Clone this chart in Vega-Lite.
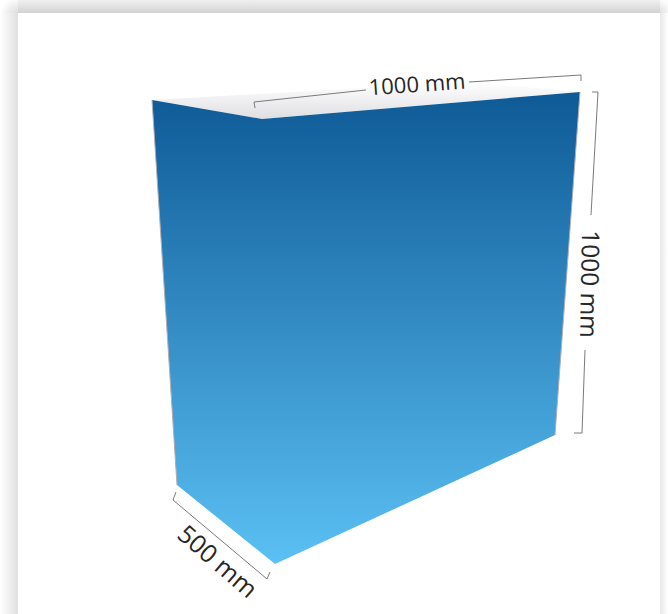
{"$schema":"https://vega.github.io/schema/vega-lite/v6.json","width":668,"height":614,"padding":0,"autosize":{"type":"fit","contains":"padding"},"background":"white","view":{"stroke":null},"datasets":{"top":[{"x":152,"y":100,"o":1},{"x":468,"y":82,"o":2},{"x":580,"y":92,"o":3},{"x":262,"y":119,"o":4},{"x":152,"y":100,"o":5}],"box":[{"x":152,"y":100,"o":1},{"x":262,"y":119,"o":2},{"x":580,"y":92,"o":3},{"x":555,"y":435,"o":4},{"x":275,"y":564,"o":5},{"x":177,"y":485,"o":6},{"x":152,"y":100,"o":7}],"edge":[{"x":152,"y":100,"o":1,"s":"a"},{"x":177,"y":485,"o":2,"s":"a"},{"x":580,"y":92,"o":1,"s":"b"},{"x":555,"y":435,"o":2,"s":"b"}],"dims":[{"x":255,"y":108,"o":1,"s":"t1"},{"x":254,"y":102,"o":2,"s":"t1"},{"x":366,"y":90,"o":3,"s":"t1"},{"x":469,"y":82,"o":1,"s":"t2"},{"x":581,"y":75,"o":2,"s":"t2"},{"x":581,"y":81,"o":3,"s":"t2"},{"x":592,"y":92,"o":1,"s":"r1"},{"x":598,"y":92,"o":2,"s":"r1"},{"x":591,"y":215,"o":3,"s":"r1"},{"x":585,"y":350,"o":1,"s":"r2"},{"x":582,"y":433,"o":2,"s":"r2"},{"x":574,"y":433,"o":3,"s":"r2"},{"x":176,"y":492,"o":1,"s":"b"},{"x":173,"y":500,"o":2,"s":"b"},{"x":267,"y":579,"o":3,"s":"b"},{"x":270,"y":572,"o":4,"s":"b"}]},"layer":[{"data":{"values":[{"x":0,"x2":18,"y":13,"y2":614}]},"mark":{"type":"rect","fill":{"gradient":"linear","x1":0,"y1":0,"x2":1,"y2":0,"stops":[{"offset":0,"color":"#ffffff"},{"offset":1,"color":"#e0e0e0"}]}},"encoding":{"x":{"field":"x","type":"quantitative","scale":{"domain":[0,668],"nice":false,"zero":false},"axis":null},"x2":{"field":"x2"},"y":{"field":"y","type":"quantitative","scale":{"domain":[614,0],"nice":false,"zero":false},"axis":null},"y2":{"field":"y2"}}},{"data":{"values":[{"x":18,"x2":660,"y":0,"y2":13}]},"mark":{"type":"rect","fill":{"gradient":"linear","x1":0,"y1":0,"x2":0,"y2":1,"stops":[{"offset":0,"color":"#f0f0f0"},{"offset":1,"color":"#d2d2d2"}]}},"encoding":{"x":{"field":"x","type":"quantitative","axis":null},"x2":{"field":"x2"},"y":{"field":"y","type":"quantitative","axis":null},"y2":{"field":"y2"}}},{"data":{"values":[{"x":660,"x2":668,"y":13,"y2":614}]},"mark":{"type":"rect","fill":{"gradient":"linear","x1":0,"y1":0,"x2":1,"y2":0,"stops":[{"offset":0,"color":"#e8e8e8"},{"offset":1,"color":"#ffffff"}]}},"encoding":{"x":{"field":"x","type":"quantitative","axis":null},"x2":{"field":"x2"},"y":{"field":"y","type":"quantitative","axis":null},"y2":{"field":"y2"}}},{"data":{"values":[{"x":0,"x2":18,"y":0,"y2":13}]},"mark":{"type":"rect","fill":{"gradient":"radial","x1":1,"y1":1,"r1":0,"x2":1,"y2":1,"r2":1,"stops":[{"offset":0,"color":"#d8d8d8"},{"offset":1,"color":"#ffffff"}]}},"encoding":{"x":{"field":"x","type":"quantitative","axis":null},"x2":{"field":"x2"},"y":{"field":"y","type":"quantitative","axis":null},"y2":{"field":"y2"}}},{"data":{"values":[{"x":660,"x2":668,"y":0,"y2":13}]},"mark":{"type":"rect","fill":{"gradient":"radial","x1":0,"y1":1,"r1":0,"x2":0,"y2":1,"r2":1,"stops":[{"offset":0,"color":"#dcdcdc"},{"offset":1,"color":"#fbfbfb"}]}},"encoding":{"x":{"field":"x","type":"quantitative","axis":null},"x2":{"field":"x2"},"y":{"field":"y","type":"quantitative","axis":null},"y2":{"field":"y2"}}},{"data":{"name":"top"},"mark":{"type":"line","strokeWidth":0,"fill":{"gradient":"linear","x1":0,"y1":0,"x2":0,"y2":1,"stops":[{"offset":0,"color":"#ffffff"},{"offset":1,"color":"#dfdfe3"}]}},"encoding":{"x":{"field":"x","type":"quantitative","axis":null},"y":{"field":"y","type":"quantitative","axis":null},"order":{"field":"o"}}},{"data":{"name":"box"},"mark":{"type":"line","strokeWidth":0,"fill":{"gradient":"linear","x1":0,"y1":0,"x2":0,"y2":1,"stops":[{"offset":0,"color":"#0e5a96"},{"offset":1,"color":"#5bc0f3"}]}},"encoding":{"x":{"field":"x","type":"quantitative","axis":null},"y":{"field":"y","type":"quantitative","axis":null},"order":{"field":"o"}}},{"data":{"name":"edge"},"mark":{"type":"line","stroke":"#b0aeb4","strokeWidth":1},"encoding":{"x":{"field":"x","type":"quantitative","axis":null},"y":{"field":"y","type":"quantitative","axis":null},"order":{"field":"o"},"detail":{"field":"s"}}},{"data":{"name":"dims"},"mark":{"type":"line","stroke":"#7a7a7a","strokeWidth":1},"encoding":{"x":{"field":"x","type":"quantitative","axis":null},"y":{"field":"y","type":"quantitative","axis":null},"order":{"field":"o"},"detail":{"field":"s"}}},{"data":{"values":[{"x":417,"y":85,"label":"1000 mm"}]},"mark":{"type":"text","font":"Open Sans","fontSize":22,"angle":-4,"color":"#262626","align":"center","baseline":"middle"},"encoding":{"x":{"field":"x","type":"quantitative","axis":null},"y":{"field":"y","type":"quantitative","axis":null},"text":{"field":"label"}}},{"data":{"values":[{"x":588,"y":284,"label":"1000 mm"}]},"mark":{"type":"text","font":"Open Sans","fontSize":24.5,"angle":91,"color":"#262626","align":"center","baseline":"middle"},"encoding":{"x":{"field":"x","type":"quantitative","axis":null},"y":{"field":"y","type":"quantitative","axis":null},"text":{"field":"label"}}},{"data":{"values":[{"x":217,"y":562,"label":"500 mm"}]},"mark":{"type":"text","font":"Open Sans","fontSize":25,"angle":41,"color":"#262626","align":"center","baseline":"middle"},"encoding":{"x":{"field":"x","type":"quantitative","axis":null},"y":{"field":"y","type":"quantitative","axis":null},"text":{"field":"label"}}}]}
